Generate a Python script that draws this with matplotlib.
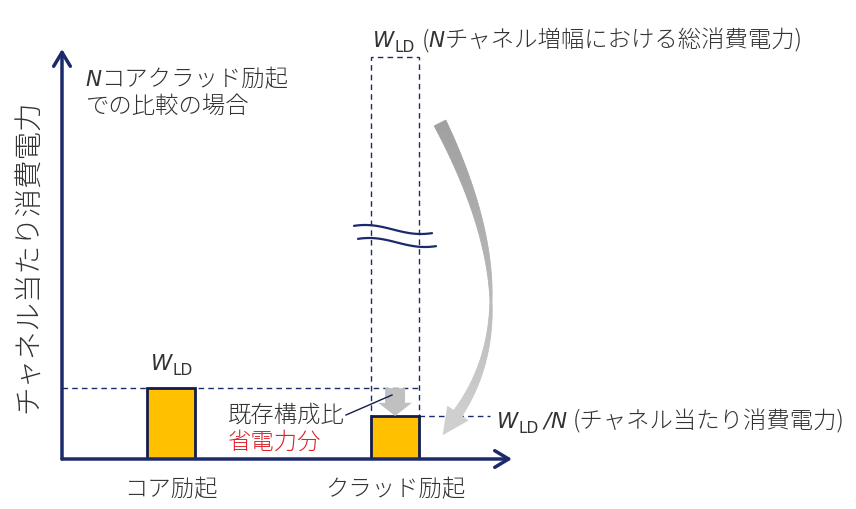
import numpy as np
import matplotlib
matplotlib.use('Agg')
import matplotlib.pyplot as plt
from matplotlib.patches import FancyArrow, Polygon

plt.rcParams['font.family'] = ['Noto Sans CJK JP', 'DejaVu Sans']

# schematic values (arbitrary units)
categories = ['コア励起', 'クラッド励起']
power_per_channel = [1.73, 1.05]   # W_LD, W_LD/N
total_power = 9.8                  # W_LD for N channels (broken axis)

NAVY = '#1b2a6b'
EDGE = '#141c4c'
GOLD = '#ffc000'
TXT = '#333333'
RED = '#e0202a'

W, H = 856, 510
fig = plt.figure(figsize=(W / 100, H / 100), dpi=100)

# data axes: y axis at x=62px, x axis at y=460px
ax = fig.add_axes([62 / W, 50 / H, 450 / W, 410 / H])
ax.set_xlim(-0.487, 1.522)
ax.set_ylim(0, 10)
ax.axis('off')

# overlay in pixel units for the annotations
ov = fig.add_axes([0, 0, 1, 1], zorder=5)
ov.set_xlim(0, W)
ov.set_ylim(H, 0)
ov.axis('off')
ov.patch.set_alpha(0)

bw = 0.214
xs = np.arange(len(categories))

# dashed total box for cladding excitation
ax.bar(xs[1], total_power, bw, fill=False, edgecolor=NAVY, ls=(0, (4, 3)), lw=1, zorder=2)
ax.bar(xs, power_per_channel, bw, color=GOLD, edgecolor=EDGE, lw=2, zorder=3)

x0, x1 = ax.get_xlim()
ax.plot([x0, xs[1] + bw / 2], [power_per_channel[0]] * 2, color=NAVY, ls=(0, (4, 3)), lw=1, zorder=2)
ax.plot([xs[1] + bw / 2, 1.424], [power_per_channel[1]] * 2, color=NAVY, ls=(0, (4, 3)), lw=1, zorder=2)

# axes arrows
for end in [(0, 1.0), (1.0, 0)]:
    ax.annotate('', xy=end, xytext=(0, 0), xycoords='axes fraction',
                arrowprops=dict(arrowstyle='->,head_length=0.5,head_width=0.3', color=NAVY, lw=2.5,
                                shrinkA=0, shrinkB=0, mutation_scale=20), zorder=6)

# small grey arrow: W_LD -> W_LD/N
ax.add_patch(FancyArrow(xs[1], power_per_channel[0], 0, power_per_channel[1] - power_per_channel[0],
                        width=0.089, head_width=0.15, head_length=0.32,
                        length_includes_head=True, color='#c0c0c0', lw=0, zorder=4))

# break marks on the dashed box
t = np.linspace(0, 1, 60)
for y0, dx in [(230.5, 0), (243.5, 4)]:
    bx = 354 + dx + 78 * t
    by = y0 + 4.5 * np.sin(1.4 * np.pi * (t - 0.5))
    ov.plot(bx, by, color=NAVY, lw=1.6, solid_capstyle='round')

# big curved grey arrow
P0, P1, P2 = np.array([440, 124.]), np.array([532, 307.]), np.array([458, 414.])
tt = np.linspace(0, 1, 90)
pts = ((1 - tt) ** 2)[:, None] * P0 + (2 * tt * (1 - tt))[:, None] * P1 + (tt ** 2)[:, None] * P2
der = (2 * (1 - tt))[:, None] * (P1 - P0) + (2 * tt)[:, None] * (P2 - P1)
der /= np.linalg.norm(der, axis=1)[:, None]
nrm = np.stack([-der[:, 1], der[:, 0]], axis=1)
wid = np.interp(tt, [0, 0.55, 1], [13, 2, 10])
left = pts + nrm * wid[:, None] / 2
right = pts - nrm * wid[:, None] / 2
c0, c1 = np.array([0.63, 0.63, 0.63]), np.array([0.81, 0.81, 0.81])
for i in range(len(tt) - 1):
    col = c0 + (c1 - c0) * tt[i]
    ov.add_patch(Polygon([left[i], left[i + 1], right[i + 1], right[i]], closed=True,
                         color=col, lw=0.6))
tip = P2 + der[-1] * 27
hw = 13
ov.add_patch(Polygon([P2 + nrm[-1] * hw, tip, P2 - nrm[-1] * hw], closed=True, color=c1, lw=0))

# leader line
ov.plot([346, 392], [416, 396], color=EDGE, lw=1)

renderer = fig.canvas.get_renderer()


def put_run(x, y, parts):
    for s, kw in parts:
        kw = dict(kw)
        dy = kw.pop('dy', 0)
        gap = kw.pop('gap', 0)
        x += gap
        txt = ov.text(x, y + dy, s, ha='left', va='baseline', **kw)
        x += txt.get_window_extent(renderer).width


ital = dict(family='DejaVu Sans', style='italic', fontsize=15.5, color=TXT)
sub = dict(family='DejaVu Sans', fontsize=11, color=TXT, dy=5)
cjk = dict(fontsize=16.8, color=TXT, weight='light')

put_run(151, 370, [('W', ital), ('LD', sub)])
put_run(373, 47, [('W', ital), ('LD', sub), ('(', dict(cjk, gap=7)), ('N', ital), ('チャネル増幅における総消費電力)', cjk)])
put_run(497, 428, [('W', ital), ('LD', sub), ('/', dict(ital, gap=5)), ('N', ital),
                   ('(チャネル当たり消費電力)', dict(cjk, gap=6))])
put_run(85, 86, [('N', ital), ('コアクラッド励起', cjk)])
put_run(85, 113, [('での比較の場合', cjk)])
put_run(228, 422, [('既存構成比', cjk)])
put_run(228, 449, [('省電力分', dict(cjk, color=RED))])

for x, label in zip(xs, categories):
    ax.text(x, -0.72, label, ha='center', va='center', fontsize=16.8, color=TXT, weight='light')

ov.text(29, 256, 'チャネル当たり消費電力', rotation=90, ha='center', va='center',
        fontsize=20.5, color=TXT, weight='light')

fig.savefig('out.png', dpi=100)
